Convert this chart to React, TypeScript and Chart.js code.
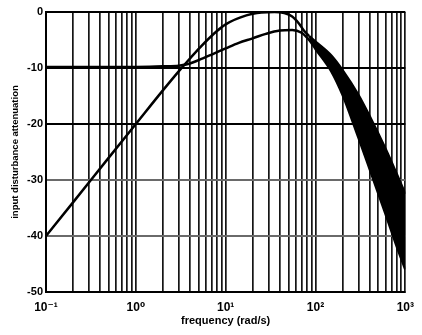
import React, { useEffect, useRef } from 'react';
import { Chart, registerables } from 'chart.js';
Chart.register(...registerables);

// Upper curve (rises 20 dB/dec from -40 dB, peaks at 0 dB)
const freqA = [0.1, 0.2, 0.5, 1, 2, 3, 4, 5.2, 8, 10, 17, 25, 35, 45, 55, 65, 75, 85];
const attenA = [-40, -34, -26, -20, -14, -10.6, -8.3, -6.3, -3.4, -2.2, -0.6, -0.1, 0, -0.2, -0.8, -2.0, -3.4, -4.3];
// Lower curve (flat near -10 dB, then lower edge of the band)
const freqB = [0.1, 1, 2, 3, 4, 5, 7, 10, 14, 20, 28, 40, 55, 70, 85, 100, 150, 200, 300, 400, 600, 800, 1000];
const attenB = [-9.8, -9.8, -9.7, -9.6, -9.2, -8.6, -7.6, -6.5, -5.5, -4.7, -3.9, -3.3, -3.2, -3.7, -5.0, -6.6, -10.6, -14.8, -22.4, -28.0, -36.0, -41.8, -46];
// Upper edge of the high-frequency band
const freqU = [85, 100, 150, 200, 300, 400, 600, 800, 1000];
const attenU = [-4.3, -5.3, -7.8, -10.4, -14.8, -18.6, -24.4, -28.9, -32.5];

const decades = [0.1, 1, 10, 100, 1000];
const decadeLabels = ['10\u207B\u00B9', '10\u2070', '10\u00B9', '10\u00B2', '10\u00B3'];
const minorMultipliers = [1, 2, 3, 4, 5, 6, 7, 8, 9];
const yTicks = [0, -10, -20, -30, -40, -50];

const toPts = (xs: number[], ys: number[]) => xs.map((x, i) => ({ x, y: ys[i] }));
const FONT = 'Liberation Sans, DejaVu Sans, sans-serif';

export default function App() {
  const ref = useRef<HTMLCanvasElement | null>(null);
  useEffect(() => {
    if (!ref.current) return;
    const gridVals: number[] = [];
    decades.forEach((d) => {
      if (d === 1000) { gridVals.push(1000); return; }
      minorMultipliers.forEach((m) => gridVals.push(+(d * m).toPrecision(6)));
    });
    const lineStyle = { borderColor: '#000', borderWidth: 2.5, pointRadius: 0, cubicInterpolationMode: 'monotone' as const };
    const chart = new Chart(ref.current, {
      type: 'line',
      data: {
        datasets: [
          { ...lineStyle, data: toPts(freqA, attenA), fill: false },
          { ...lineStyle, data: toPts(freqB, attenB), fill: false },
          { ...lineStyle, data: toPts(freqU, attenU), fill: { target: 1 }, backgroundColor: '#000' },
        ],
      },
      options: {
        responsive: false,
        animation: false,
        layout: { padding: { top: 12, right: 12, left: 0, bottom: 0 } },
        plugins: { legend: { display: false }, tooltip: { enabled: false } },
        scales: {
          x: {
            type: 'logarithmic',
            min: 0.1,
            max: 1000,
            afterBuildTicks: (s: any) => { s.ticks = gridVals.map((v) => ({ value: v })); },
            afterFit: (s: any) => { s.height = 43; },
            grid: { color: '#151515', lineWidth: 1.7, drawTicks: false },
            border: { color: '#000', width: 2 },
            ticks: {
              autoSkip: false,
              maxRotation: 0,
              padding: 8,
              color: '#000',
              font: { family: FONT, size: 12, weight: 'bold' },
              callback: (v: any) => {
                const i = decades.findIndex((d) => Math.abs(d - Number(v)) < d * 1e-6);
                return i >= 0 ? decadeLabels[i] : '';
              },
            },
            title: {
              display: true,
              text: 'frequency (rad/s)',
              color: '#000',
              padding: { top: 0, bottom: 7 },
              font: { family: FONT, size: 11, weight: 'bold' },
            },
          },
          y: {
            type: 'linear',
            min: -50,
            max: 0,
            afterBuildTicks: (s: any) => { s.ticks = yTicks.map((v) => ({ value: v })); },
            afterFit: (s: any) => { s.width = 46; },
            grid: {
              drawTicks: false,
              lineWidth: 2,
              color: (c: any) => {
                const v = c.tick ? c.tick.value : 0;
                return v === -30 || v === -40 ? '#6a6a6a' : '#000';
              },
            },
            border: { color: '#000', width: 2 },
            ticks: {
              padding: 3,
              color: '#000',
              font: { family: FONT, size: 11, weight: 'bold' },
            },
            title: {
              display: true,
              text: 'input disturbance attenuation',
              color: '#000',
              padding: { top: 10, bottom: 0 },
              font: { family: FONT, size: 9.5, weight: 'bold' },
            },
          },
        },
      },
    });
    return () => chart.destroy();
  }, []);
  return (
    <div style={{ position: 'absolute', left: 0, top: 0, width: 422, height: 335, background: '#fff' }}>
      <canvas ref={ref} width={422} height={335} />
    </div>
  );
}
